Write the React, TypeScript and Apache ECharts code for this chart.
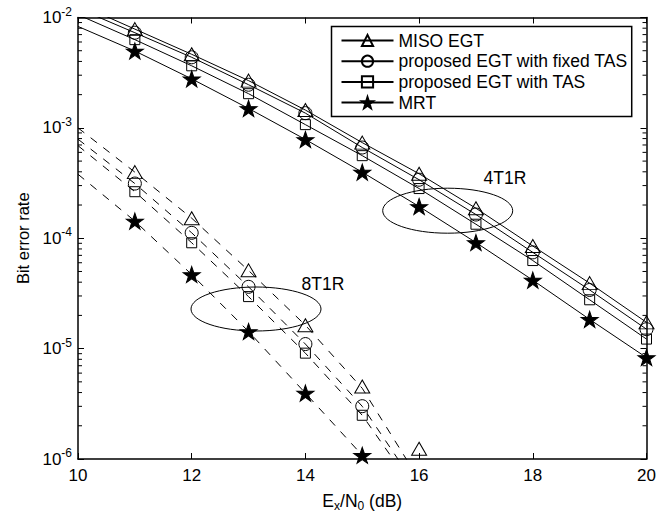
import React, { useEffect, useRef } from "react";
import * as echarts from "echarts";

// ---- data ----
const X_4T1R = [10, 11, 12, 13, 14, 15, 16, 17, 18, 19, 20];
const MISO_4T1R = [1.33e-2, 7.85e-3, 4.64e-3, 2.68e-3, 1.45e-3, 7.35e-4, 3.84e-4, 1.87e-4, 8.5e-5, 3.92e-5, 1.73e-5];
const FIXED_4T1R = [1.21e-2, 7.28e-3, 4.36e-3, 2.46e-3, 1.36e-3, 6.64e-4, 3.39e-4, 1.64e-4, 7.45e-5, 3.4e-5, 1.5e-5];
const TAS_4T1R = [1.06e-2, 6.3e-3, 3.65e-3, 2.04e-3, 1.07e-3, 5.6e-4, 2.82e-4, 1.34e-4, 6.28e-5, 2.77e-5, 1.22e-5];
const MRT_4T1R = [8.3e-3, 4.97e-3, 2.78e-3, 1.5e-3, 7.85e-4, 3.97e-4, 1.94e-4, 9.14e-5, 4.17e-5, 1.84e-5, 8.3e-6];

// 8T1R analytic (dashed) curves
const X_8T1R_LINE = [10, 11, 12, 13, 14, 15, 16];
const MISO_8T1R_LINE = [1.0e-3, 3.97e-4, 1.52e-4, 5.1e-5, 1.63e-5, 4.37e-6, 6.5e-7];
const FIXED_8T1R_LINE = [7.9e-4, 3.13e-4, 1.12e-4, 3.63e-5, 1.1e-5, 3.0e-6, 5.2e-7];
const TAS_8T1R_LINE = [6.9e-4, 2.64e-4, 9.1e-5, 2.96e-5, 9.1e-6, 2.49e-6, 4.6e-7];
const MRT_8T1R_LINE = [3.8e-4, 1.43e-4, 4.69e-5, 1.43e-5, 3.95e-6, 1.08e-6, 3.0e-7];

// 8T1R simulated markers
const X_8T1R_MISO = [11, 12, 13, 14, 15, 16];
const MISO_8T1R = [3.97e-4, 1.52e-4, 5.12e-5, 1.63e-5, 4.54e-6, 1.24e-6];
const X_8T1R = [11, 12, 13, 14, 15];
const FIXED_8T1R = [3.13e-4, 1.12e-4, 3.63e-5, 1.1e-5, 3.01e-6];
const TAS_8T1R = [2.64e-4, 9.1e-5, 2.96e-5, 9.1e-6, 2.49e-6];
const MRT_8T1R = [1.43e-4, 4.69e-5, 1.43e-5, 3.95e-6, 1.08e-6];

const NAMES = ["MISO EGT", "proposed EGT with fixed TAS", "proposed EGT with TAS", "MRT"];
const X_TICKS = { min: 10, max: 20, interval: 2 };
const Y_RANGE = { min: 1e-6, max: 1e-2 };
const MINOR_MULT = [2, 3, 4, 5, 6, 7, 8, 9];
const MINOR_EXP = [-6, -5, -4, -3];

const FONT = "Liberation Sans, Arial, Helvetica, sans-serif";
const STAR = "path://M50,0 L61.8,35.1 L98.1,35.1 L68.7,56.7 L79.4,91 L50,70 L20.6,91 L31.3,56.7 L1.9,35.1 L38.2,35.1 Z";

const SYMBOLS = [
  { symbol: "triangle", symbolSize: [15, 13], fill: "rgba(0,0,0,0)" },
  { symbol: "circle", symbolSize: 13, fill: "rgba(0,0,0,0)" },
  { symbol: "rect", symbolSize: 10, fill: "rgba(0,0,0,0)" },
  { symbol: STAR, symbolSize: [17, 16], fill: "#000" },
];

export default function App() {
  const ref = useRef<HTMLDivElement>(null);
  useEffect(() => {
    if (!ref.current) return;
    const chart = echarts.init(ref.current, null, { renderer: "svg" });

    const solid = [MISO_4T1R, FIXED_4T1R, TAS_4T1R, MRT_4T1R];
    const dashLines = [MISO_8T1R_LINE, FIXED_8T1R_LINE, TAS_8T1R_LINE, MRT_8T1R_LINE];
    const dashPts = [
      [X_8T1R_MISO, MISO_8T1R],
      [X_8T1R, FIXED_8T1R],
      [X_8T1R, TAS_8T1R],
      [X_8T1R, MRT_8T1R],
    ];

    const series: any[] = [];
    solid.forEach((ys, i) => {
      const s = SYMBOLS[i];
      series.push({
        name: NAMES[i],
        type: "line",
        symbol: s.symbol,
        symbolSize: s.symbolSize,
        showAllSymbol: true,
        lineStyle: { color: "#000", width: 1 },
        itemStyle: { color: s.fill, borderColor: "#000", borderWidth: 1, opacity: 1 },
        data: X_4T1R.map((x, j) =>
          j === 0 ? { value: [x, ys[j]], symbol: "none" } : { value: [x, ys[j]] }
        ),
        clip: true,
        z: 3,
      });
    });
    dashLines.forEach((ys, i) => {
      series.push({
        name: NAMES[i] + " 8T1R",
        type: "line",
        symbol: "none",
        lineStyle: { color: "#000", width: 1, type: [8, 8] },
        data: X_8T1R_LINE.map((x, j) => [x, ys[j]]),
        clip: true,
        z: 2,
      });
    });
    dashPts.forEach(([xs, ys], i) => {
      const s = SYMBOLS[i];
      series.push({
        name: NAMES[i] + " 8T1R sim",
        type: "scatter",
        symbol: s.symbol,
        symbolSize: s.symbolSize,
        itemStyle: { color: s.fill, borderColor: "#000", borderWidth: 1, opacity: 1 },
        data: (xs as number[]).map((x, j) => [x, (ys as number[])[j]]),
        clip: false,
        z: 3,
      });
    });
    const minor: number[][] = [];
    MINOR_EXP.forEach((e) => MINOR_MULT.forEach((k) => minor.push([X_TICKS.min, k * Math.pow(10, e)])));
    series.push({
      type: "custom",
      name: "minor",
      silent: true,
      encode: { x: 0, y: 1 },
      data: minor,
      renderItem: (params: any, api: any) => {
        const v = api.value(1);
        const p0 = api.coord([X_TICKS.min, v]);
        const p1 = api.coord([X_TICKS.max, v]);
        return {
          type: "group",
          children: [
            { type: "line", shape: { x1: p0[0], y1: p0[1], x2: p0[0] + 4, y2: p0[1] }, style: { stroke: "#000", lineWidth: 1 } },
            { type: "line", shape: { x1: p1[0] - 4, y1: p1[1], x2: p1[0], y2: p1[1] }, style: { stroke: "#000", lineWidth: 1 } },
          ],
        };
      },
      z: 4,
    });

    const axisLine = { show: true, onZero: false, lineStyle: { color: "#000", width: 1.5 } };
    const tick = { show: true, inside: true, length: 6, lineStyle: { color: "#000", width: 1 } };

    chart.setOption({
      animation: false,
      backgroundColor: "#fff",
      textStyle: { fontFamily: FONT },
      grid: { left: 78, right: 23.5, top: 17.5, bottom: 50, containLabel: false },
      legend: {
        data: NAMES,
        orient: "vertical",
        left: 331.5,
        top: 26.5,
        itemWidth: 52,
        itemHeight: 14,
        itemGap: 0.7,
        padding: [4, 4, 4, 9],
        borderColor: "#000",
        borderWidth: 1.5,
        backgroundColor: "#fff",
        textStyle: { fontSize: 17.5, color: "#000", fontFamily: FONT, lineHeight: 20 },
      },
      xAxis: [
        {
          type: "value",
          ...X_TICKS,
          position: "bottom",
          axisLine,
          axisTick: tick,
          splitLine: { show: false },
          axisLabel: { color: "#000", fontSize: 17, margin: 8, fontFamily: FONT },
          name: "{n|E}{s|x}{n|/N}{s|0}{n| (dB)}",
          nameLocation: "middle",
          nameGap: 31,
          nameTextStyle: {
            color: "#000",
            rich: {
              n: { fontSize: 17.5, color: "#000", fontFamily: FONT },
              s: { fontSize: 12, color: "#000", fontFamily: FONT, padding: [10, 0, 0, 0] },
            },
          },
        },
        {
          type: "value",
          ...X_TICKS,
          position: "top",
          axisLine,
          axisTick: tick,
          splitLine: { show: false },
          axisLabel: { show: false },
        },
      ],
      yAxis: [
        {
          type: "log",
          logBase: 10,
          ...Y_RANGE,
          position: "left",
          axisLine,
          axisTick: tick,
          splitLine: { show: false },
          axisLabel: {
            margin: 6,
            showMinLabel: true,
            showMaxLabel: true,
            formatter: (v: number) => `{b|10}{s|${Math.round(Math.log10(v))}}`,
            rich: {
              b: { fontSize: 17, color: "#000", fontFamily: FONT },
              s: { fontSize: 12, color: "#000", fontFamily: FONT, padding: [0, 0, 12, 0] },
            },
          },
          name: "Bit error rate",
          nameLocation: "middle",
          nameGap: 47,
          nameTextStyle: { color: "#000", fontSize: 16.5, fontFamily: FONT },
        },
        {
          type: "log",
          logBase: 10,
          ...Y_RANGE,
          position: "right",
          axisLine,
          axisTick: tick,
          splitLine: { show: false },
          axisLabel: { show: false },
        },
      ],
      graphic: [
        { type: "ellipse", shape: { cx: 447.7, cy: 210.7, rx: 65, ry: 22.5 }, style: { fill: "none", stroke: "#000", lineWidth: 1 }, z: 10 },
        { type: "text", x: 505, y: 178, style: { text: "4T1R", fontSize: 17.5, fontFamily: FONT, fill: "#000", align: "center", verticalAlign: "middle" }, z: 10 },
        { type: "ellipse", shape: { cx: 256, cy: 309, rx: 65, ry: 22 }, style: { fill: "none", stroke: "#000", lineWidth: 1 }, z: 10 },
        { type: "text", x: 323, y: 284, style: { text: "8T1R", fontSize: 17.5, fontFamily: FONT, fill: "#000", align: "center", verticalAlign: "middle" }, z: 10 },
      ],
      series,
    });
    return () => chart.dispose();
  }, []);
  return (
    <div
      ref={ref}
      style={{ position: "fixed", left: 0, top: 0, width: 670, height: 517, background: "#fff" }}
    />
  );
}
